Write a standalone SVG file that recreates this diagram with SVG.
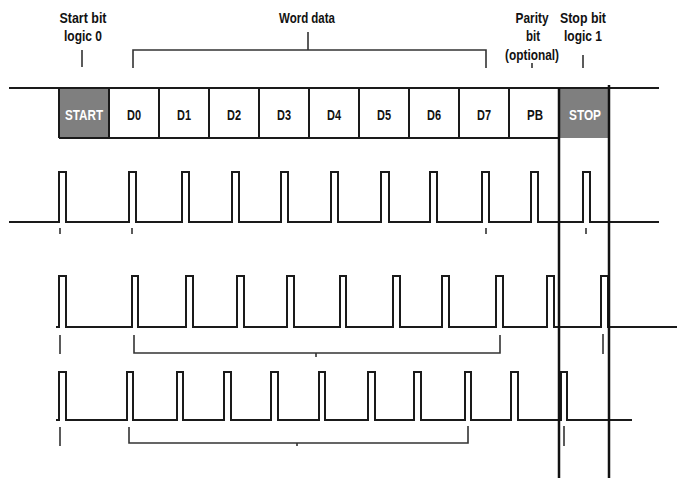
<svg xmlns="http://www.w3.org/2000/svg" width="688" height="478" viewBox="0 0 688 478">
<style>
text{font-family:"Liberation Sans Narrow","Liberation Sans",Arial,sans-serif;font-weight:bold;font-size:14px;text-anchor:middle;fill:#111}
.wt{fill:#fff}
.ln{stroke:#1a1a1a;stroke-width:2;fill:none}
.sig{stroke:#1a1a1a;stroke-width:2;fill:none;stroke-linejoin:miter}
.tk{stroke:#333;stroke-width:1.6;fill:none}
.gr{fill:#7f7f7f}
</style>
<rect width="688" height="478" fill="#fff"/>
<g id="labels">
<text x="83" y="23" textLength="47" lengthAdjust="spacingAndGlyphs">Start bit</text>
<text x="83" y="41" textLength="38" lengthAdjust="spacingAndGlyphs">logic 0</text>
<text x="307" y="23" textLength="56" lengthAdjust="spacingAndGlyphs">Word data</text>
<text x="532" y="23" textLength="33" lengthAdjust="spacingAndGlyphs">Parity</text>
<text x="533" y="41" textLength="14" lengthAdjust="spacingAndGlyphs">bit</text>
<text x="532" y="60" textLength="54" lengthAdjust="spacingAndGlyphs">(optional)</text>
<text x="583" y="23" textLength="46" lengthAdjust="spacingAndGlyphs">Stop bit</text>
<text x="583" y="41" textLength="38" lengthAdjust="spacingAndGlyphs">logic 1</text>
</g>
<g id="frame">
<rect class="gr" x="59" y="88" width="50" height="50"/>
<rect class="gr" x="559" y="88" width="50" height="50"/>
<line class="ln" x1="9" y1="88" x2="659" y2="88"/>
<line class="ln" x1="59" y1="138" x2="559" y2="138"/>
<path class="ln" d="M59,88V138M109,88V138M159,88V138M209,88V138M259,88V138M309,88V138M359,88V138M409,88V138M459,88V138M509,88V138"/>
<text class="wt" x="84" y="120" textLength="38" lengthAdjust="spacingAndGlyphs">START</text>
<text x="134" y="120" textLength="14" lengthAdjust="spacingAndGlyphs">D0</text>
<text x="184" y="120" textLength="14" lengthAdjust="spacingAndGlyphs">D1</text>
<text x="234" y="120" textLength="14" lengthAdjust="spacingAndGlyphs">D2</text>
<text x="284" y="120" textLength="14" lengthAdjust="spacingAndGlyphs">D3</text>
<text x="334" y="120" textLength="14" lengthAdjust="spacingAndGlyphs">D4</text>
<text x="384" y="120" textLength="14" lengthAdjust="spacingAndGlyphs">D5</text>
<text x="434" y="120" textLength="14" lengthAdjust="spacingAndGlyphs">D6</text>
<text x="484" y="120" textLength="14" lengthAdjust="spacingAndGlyphs">D7</text>
<text x="535" y="120" textLength="16" lengthAdjust="spacingAndGlyphs">PB</text>
<text class="wt" x="585" y="120" textLength="32" lengthAdjust="spacingAndGlyphs">STOP</text>
</g>
<g id="signals">
<polyline class="sig" points="9,222 59,222 59,172 66,172 66,222 129,222 129,172 136,172 136,222 182,222 182,172 189,172 189,222 232,222 232,172 239,172 239,222 281,222 281,172 288,172 288,222 331,222 331,172 338,172 338,222 381,222 381,172 389,172 389,222 430,222 430,172 437,172 437,222 482,222 482,172 489,172 489,222 531,222 531,172 538,172 538,222 583,222 583,172 590,172 590,222 659,222"/>
<polyline class="sig" points="56,327 59,327 59,276 66,276 66,327 132,327 132,276 138,276 138,327 186,327 186,276 193,276 193,327 237,327 237,276 244,276 244,327 287,327 287,276 294,276 294,327 340,327 340,276 346,276 346,327 393,327 393,276 400,276 400,327 442,327 442,276 449,276 449,327 496,327 496,276 503,276 503,327 547,327 547,276 554,276 554,327 601,327 601,276 608,276 608,327 677,327"/>
<polyline class="sig" points="56,420 59,420 59,372 66,372 66,420 127,420 127,372 133,372 133,420 177,420 177,372 183,372 183,420 224,420 224,372 231,372 231,420 271,420 271,372 278,372 278,420 319,420 319,372 325,372 325,420 368,420 368,372 375,372 375,420 414,420 414,372 421,372 421,420 465,420 465,372 471,372 471,420 511,420 511,372 518,372 518,420 561,420 561,372 567,372 567,420 632,420"/>
</g>
<g id="connectors">
<path class="tk" d="M82,50V67M308,32V50M532,63V68M583,55V68"/>
<path class="tk" d="M133,68V50H486V68"/>
<path class="tk" d="M60,228V234M132,228V234M486,228V234M586,228V234"/>
<path class="tk" d="M60,335V354M603,334V354M316,353V357"/>
<path class="tk" d="M134,335V353H500V335"/>
<path class="tk" d="M60,427V446M564,426V446M297,443V446"/>
<path class="tk" d="M129,427V443H468V426"/>
<path stroke="#111" stroke-width="2.5" fill="none" d="M559,88V478M609,85V478"/>
</g>
</svg>
